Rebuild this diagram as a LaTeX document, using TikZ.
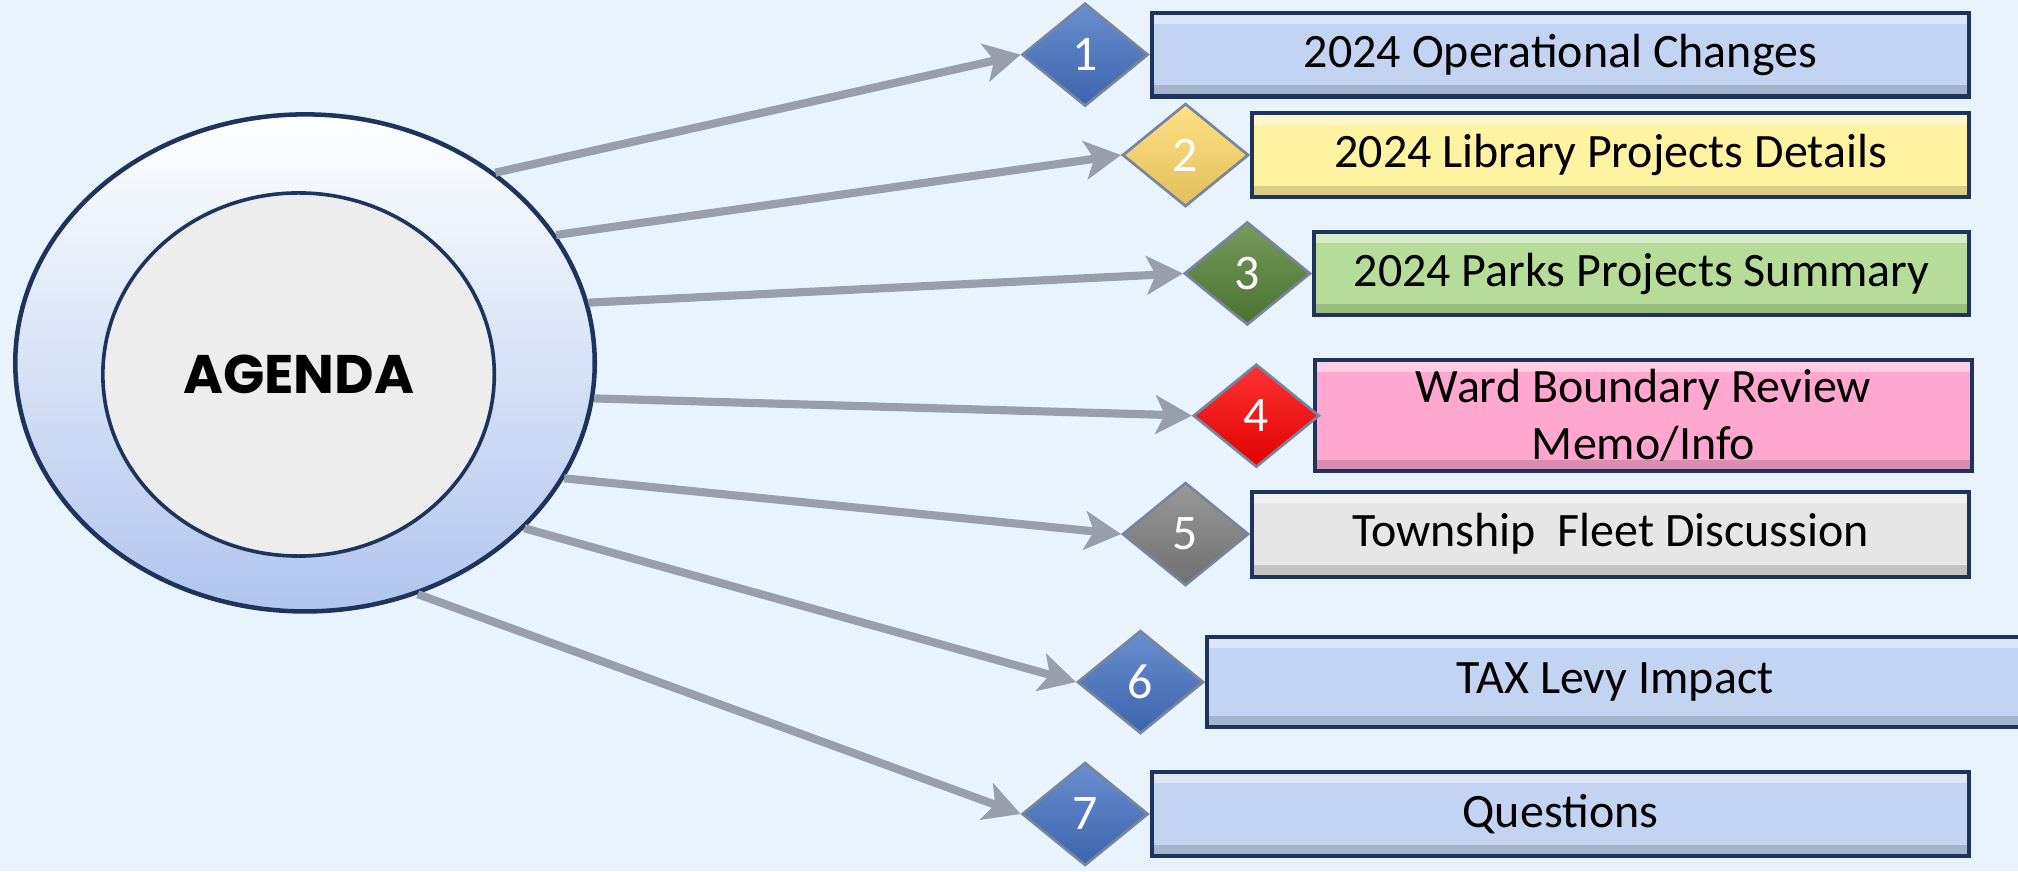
\documentclass[tikz,border=0pt]{standalone}
\usepackage{fontspec}
\setmainfont{Carlito}
\newfontfamily\agendafont{Poppins}
\usetikzlibrary{arrows.meta,shapes.geometric,positioning}
\definecolor{bgblue}{RGB}{232,243,253}
\definecolor{navy}{RGB}{31,52,92}
\definecolor{ringblue}{RGB}{176,197,238}
\definecolor{hubgray}{RGB}{237,237,237}
\definecolor{linkgray}{RGB}{152,158,172}
\definecolor{paleblue}{RGB}{194,212,242}
\definecolor{paleyellow}{RGB}{255,242,160}
\definecolor{palegreen}{RGB}{181,220,153}
\definecolor{palepink}{RGB}{255,167,206}
\definecolor{palegray}{RGB}{230,230,230}
\definecolor{diablue}{RGB}{68,114,196}
\definecolor{diayellow}{RGB}{255,217,102}
\definecolor{diagreen}{RGB}{84,130,53}
\definecolor{diared}{RGB}{255,0,0}
\definecolor{diagray}{RGB}{127,127,127}

\tikzset{
  topic/.style={rectangle,draw=navy,line width=0.9pt,fill=#1,inner sep=2pt,
    minimum height=0.65cm,align=center,font=\fontsize{10.6}{12.6}\selectfont,
    path picture={
      \fill[white,opacity=0.45] (path picture bounding box.north west) rectangle ([yshift=-2.5pt]path picture bounding box.north east);
      \fill[black,opacity=0.15] ([yshift=2.5pt]path picture bounding box.south west) rectangle (path picture bounding box.south east);}},
  badge/.style={diamond,draw=navy!60,line width=0.6pt,inner sep=0pt,
    minimum width=0.98cm,minimum height=0.8cm,text=white,
    top color=#1!80!white,middle color=#1,bottom color=#1!88!black,
    font=\fontsize{11}{13}\selectfont},
  link/.style={color=linkgray,line width=1.8pt,-{Stealth[length=8pt,width=8.5pt,inset=2pt]}}
}

\begin{document}
\begin{tikzpicture}[x=0.01cm,y=-0.01cm]
  \useasboundingbox (0,0) rectangle (1568,677);
  \clip (0,0) rectangle (1568,677);
  \fill[bgblue] (0,0) rectangle (1568,677);

  % agenda hub
  \node[ellipse,draw=navy,line width=1pt,minimum width=4.5cm,minimum height=3.86cm,
    top color=white,middle color=white!25!ringblue,bottom color=ringblue] (ring) at (237,282) {};
  \node[ellipse,draw=navy,line width=0.8pt,fill=hubgray,minimum width=3.04cm,minimum height=2.82cm,
    font=\agendafont\bfseries\fontsize{12}{14}\selectfont] (hub) at (232,291) {AGENDA};

  % topics
  \node[topic=paleblue,minimum width=6.35cm]   (b1) at (1212.5,42.5) {2024 Operational Changes};
  \node[topic=paleyellow,minimum width=5.57cm] (b2) at (1251.5,120.5) {2024 Library Projects Details};
  \node[topic=palegreen,minimum width=5.09cm]  (b3) at (1275.5,212.5) {2024 Parks Projects Summary};
  \node[topic=palepink,minimum width=5.10cm,minimum height=0.8cm] (b4) at (1277,323) {Ward Boundary Review\\Memo/Info};
  \node[topic=palegray,minimum width=5.57cm,minimum height=0.66cm] (b5) at (1251.5,415) {Township~ Fleet Discussion};
  \node[topic=paleblue,minimum width=6.34cm,minimum height=0.7cm] (b6) at (1255,530) {TAX Levy Impact};
  \node[topic=paleblue,minimum width=6.35cm]   (b7) at (1212.5,632.5) {Questions};

  \node[badge=diablue,left=0pt of b1]      (d1) {1};
  \node[badge=diayellow,left=0pt of b2]    (d2) {2};
  \node[badge=diagreen,left=0pt of b3]     (d3) {3};
  \node[badge=diared,left=-0.06cm of b4]   (d4) {4};
  \node[badge=diagray,left=0pt of b5]      (d5) {5};
  \node[badge=diablue,left=0pt of b6]      (d6) {6};
  \node[badge=diablue,left=0pt of b7]      (d7) {7};

  \path[link]
    (ring.45)  edge (d1.west)
    (ring.27)  edge (d2.west)
    (ring.12)  edge (d3.west)
    (ring.-7)  edge (d4.west)
    (ring.-24) edge (d5.west)
    (ring.-37) edge (d6.west)
    (ring.-64) edge (d7.west);
\end{tikzpicture}
\end{document}
